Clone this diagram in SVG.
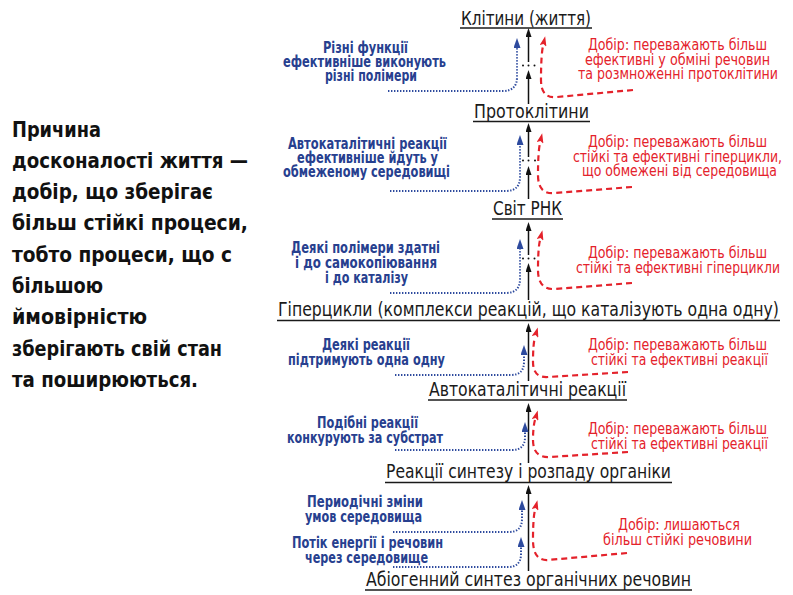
<svg xmlns="http://www.w3.org/2000/svg" width="793" height="595" viewBox="0 0 793 595">
<style>
text{font-family:"Ubuntu Condensed","Liberation Sans Narrow","DejaVu Sans Condensed","Liberation Sans",sans-serif;font-stretch:condensed}
.h{font-size:19px;fill:#1a1a1a}
.b{font-size:16px;fill:#27408f;font-weight:bold}
.r{font-size:16px;fill:#e4222b}
.l{font-size:22px;font-weight:bold;fill:#111}
.ul{stroke:#1a1a1a;stroke-width:1.5}
.ax{fill:none;stroke:#111;stroke-width:1.5}
.bd{fill:none;stroke:#2d4a9e;stroke-width:2;stroke-dasharray:1.4 1.6}
.rd{fill:none;stroke:#e4222b;stroke-width:2.2;stroke-dasharray:6 4}
.dot{fill:#111}
</style>
<defs>
<marker id="mk" viewBox="0 0 9 6" markerWidth="9" markerHeight="6" refX="0" refY="3" orient="auto" markerUnits="userSpaceOnUse"><path d="M0,0 L9,3 L0,6 z" fill="#111"/></marker>
<marker id="mb" viewBox="0 0 10 7" markerWidth="10" markerHeight="7" refX="0" refY="3.5" orient="auto" markerUnits="userSpaceOnUse"><path d="M0,0 L10,3.5 L0,7 z" fill="#2d4a9e"/></marker>
<marker id="mr" viewBox="0 0 10 7" markerWidth="10" markerHeight="7" refX="0" refY="3.5" orient="auto" markerUnits="userSpaceOnUse"><path d="M0,0 L10,3.5 L0,7 L2,3.5 z" fill="#e4222b"/></marker>
</defs>

<g id="left-text">
<text class="l" x="12" y="137" textLength="89" lengthAdjust="spacingAndGlyphs">Причина</text>
<text class="l" x="12" y="168" textLength="236" lengthAdjust="spacingAndGlyphs">досконалості життя —</text>
<text class="l" x="12" y="199" textLength="201" lengthAdjust="spacingAndGlyphs">добір, що зберігає</text>
<text class="l" x="12" y="230" textLength="236" lengthAdjust="spacingAndGlyphs">більш стійкі процеси,</text>
<text class="l" x="12" y="262" textLength="220" lengthAdjust="spacingAndGlyphs">тобто процеси, що с</text>
<text class="l" x="12" y="293" textLength="91" lengthAdjust="spacingAndGlyphs">більшою</text>
<text class="l" x="12" y="324" textLength="135" lengthAdjust="spacingAndGlyphs">ймовірністю</text>
<text class="l" x="12" y="356" textLength="210" lengthAdjust="spacingAndGlyphs">зберігають свій стан</text>
<text class="l" x="12" y="387" textLength="186" lengthAdjust="spacingAndGlyphs">та поширюються.</text>
</g>

<g id="connectors">
<path class="ax" d="M528.5 62 L528.5 37" marker-end="url(#mk)"/>
<path class="ax" d="M528.5 104 L528.5 79" marker-end="url(#mk)"/>
<path class="ax" d="M528.5 157 L528.5 132" marker-end="url(#mk)"/>
<path class="ax" d="M528.5 199 L528.5 175" marker-end="url(#mk)"/>
<path class="ax" d="M528.5 255 L528.5 231" marker-end="url(#mk)"/>
<path class="ax" d="M528.5 300 L528.5 272" marker-end="url(#mk)"/>
<path class="ax" d="M528.5 381 L528.5 332" marker-end="url(#mk)"/>
<path class="ax" d="M528.5 463 L528.5 412" marker-end="url(#mk)"/>
<path class="ax" d="M528.5 571 L528.5 494" marker-end="url(#mk)"/>
<circle class="dot" cx="523" cy="65.5" r="1"/><circle class="dot" cx="528.5" cy="65.5" r="1"/><circle class="dot" cx="534.5" cy="65.5" r="1"/>
<circle class="dot" cx="523" cy="160.5" r="1"/><circle class="dot" cx="528.5" cy="160.5" r="1"/><circle class="dot" cx="535" cy="160.5" r="1"/>
<circle class="dot" cx="523" cy="258.5" r="1"/><circle class="dot" cx="528.5" cy="258.5" r="1"/><circle class="dot" cx="534.5" cy="258.5" r="1"/>

<path class="bd" d="M388 91 L503 91 Q517 91 517 77 L517 48" marker-end="url(#mb)"/>
<path class="bd" d="M390 191 L506 191 Q520 191 520 177 L520 145" marker-end="url(#mb)"/>
<path class="bd" d="M390 293 L506 293 Q520 293 520 279 L520 249" marker-end="url(#mb)"/>
<path class="bd" d="M395 375 L511 375 Q524 375 524 362 L524 355" marker-end="url(#mb)"/>
<path class="bd" d="M395 450 L512 450 Q525 450 525 437 L525 432" marker-end="url(#mb)"/>
<path class="bd" d="M393 532 L509 532 Q522 532 522 519 L522 510" marker-end="url(#mb)"/>
<path class="bd" d="M393 567 L508 567 Q521 567 521 554 L521 547" marker-end="url(#mb)"/>

<path class="rd" d="M633 90 L557 97 Q541 99 541 80 Q541 55 543 46" marker-end="url(#mr)"/>
<path class="rd" d="M632 187 L555 193 Q538 195 538 175 Q538 152 540 143" marker-end="url(#mr)"/>
<path class="rd" d="M632 283 L555 289 Q538 290 538 270 Q538 248 540 240" marker-end="url(#mr)"/>
<path class="rd" d="M628 372 L548 377 Q533 378 533 362 Q533 344 535 337" marker-end="url(#mr)"/>
<path class="rd" d="M628 452 L550 457 Q533 458 533 440 Q533 427 535 420" marker-end="url(#mr)"/>
<path class="rd" d="M627 553 L548 560 Q533 561 533 540 Q533 518 535 510" marker-end="url(#mr)"/>
</g>

<g id="h1"><text class="h" x="461" y="24.5" textLength="130" lengthAdjust="spacingAndGlyphs">Клітини (життя)</text><line class="ul" x1="460" y1="28" x2="592" y2="28"/></g>
<g id="h2"><text class="h" x="474" y="118" textLength="115" lengthAdjust="spacingAndGlyphs">Протоклітини</text><line class="ul" x1="473" y1="121.5" x2="590" y2="121.5"/></g>
<g id="h3"><text class="h" x="493" y="215" textLength="69" lengthAdjust="spacingAndGlyphs">Світ РНК</text><line class="ul" x1="492" y1="219" x2="563" y2="219"/></g>
<g id="h4"><text class="h" x="278" y="316" textLength="501" lengthAdjust="spacingAndGlyphs">Гіперцикли (комплекси реакцій, що каталізують одна одну)</text><line class="ul" x1="277" y1="320.5" x2="780" y2="320.5"/></g>
<g id="h5"><text class="h" x="429" y="396" textLength="197" lengthAdjust="spacingAndGlyphs">Автокаталітичні реакції</text><line class="ul" x1="428" y1="400" x2="627" y2="400"/></g>
<g id="h6"><text class="h" x="386" y="478" textLength="285" lengthAdjust="spacingAndGlyphs">Реакції синтезу і розпаду органіки</text><line class="ul" x1="385" y1="482.5" x2="672" y2="482.5"/></g>
<g id="h7"><text class="h" x="366" y="586" textLength="325" lengthAdjust="spacingAndGlyphs">Абіогенний синтез органічних речовин</text><line class="ul" x1="365" y1="590" x2="692" y2="590"/></g>

<g id="b1">
<text class="b" x="323" y="53" textLength="85" lengthAdjust="spacingAndGlyphs">Різні функції</text>
<text class="b" x="283" y="67" textLength="163" lengthAdjust="spacingAndGlyphs">ефективніше виконують</text>
<text class="b" x="325" y="80.5" textLength="92" lengthAdjust="spacingAndGlyphs">різні полімери</text>
</g>
<g id="b2">
<text class="b" x="288" y="149" textLength="159" lengthAdjust="spacingAndGlyphs">Автокаталітичні реакції</text>
<text class="b" x="297" y="163" textLength="141" lengthAdjust="spacingAndGlyphs">ефективніше йдуть у</text>
<text class="b" x="283" y="177" textLength="167" lengthAdjust="spacingAndGlyphs">обмеженому середовищі</text>
</g>
<g id="b3">
<text class="b" x="291" y="253" textLength="149" lengthAdjust="spacingAndGlyphs">Деякі полімери здатні</text>
<text class="b" x="295" y="268" textLength="142" lengthAdjust="spacingAndGlyphs">і до самокопіювання</text>
<text class="b" x="325" y="283" textLength="83" lengthAdjust="spacingAndGlyphs">і до каталізу</text>
</g>
<g id="b4">
<text class="b" x="322" y="350" textLength="88" lengthAdjust="spacingAndGlyphs">Деякі реакції</text>
<text class="b" x="288" y="365" textLength="157" lengthAdjust="spacingAndGlyphs">підтримують одна одну</text>
</g>
<g id="b5">
<text class="b" x="317" y="428" textLength="101" lengthAdjust="spacingAndGlyphs">Подібні реакції</text>
<text class="b" x="287" y="443" textLength="156" lengthAdjust="spacingAndGlyphs">конкурують за субстрат</text>
</g>
<g id="b6">
<text class="b" x="307" y="507" textLength="116" lengthAdjust="spacingAndGlyphs">Периодічні зміни</text>
<text class="b" x="305" y="522" textLength="117" lengthAdjust="spacingAndGlyphs">умов середовища</text>
</g>
<g id="b7">
<text class="b" x="292" y="548" textLength="151" lengthAdjust="spacingAndGlyphs">Потік енергії і речовин</text>
<text class="b" x="305" y="563" textLength="123" lengthAdjust="spacingAndGlyphs">через середовище</text>
</g>

<g id="r1">
<text class="r" x="588" y="50" textLength="179" lengthAdjust="spacingAndGlyphs">Добір: переважають більш</text>
<text class="r" x="585" y="64.5" textLength="185" lengthAdjust="spacingAndGlyphs">ефективні у обміні речовин</text>
<text class="r" x="578" y="79" textLength="200" lengthAdjust="spacingAndGlyphs">та розмноженні протоклітини</text>
</g>
<g id="r2">
<text class="r" x="588" y="147" textLength="179" lengthAdjust="spacingAndGlyphs">Добір: переважають більш</text>
<text class="r" x="573" y="161.5" textLength="209" lengthAdjust="spacingAndGlyphs">стійкі та ефективні гіперцикли,</text>
<text class="r" x="582" y="176" textLength="195" lengthAdjust="spacingAndGlyphs">що обмежені від середовища</text>
</g>
<g id="r3">
<text class="r" x="588" y="258" textLength="179" lengthAdjust="spacingAndGlyphs">Добір: переважають більш</text>
<text class="r" x="576" y="273" textLength="204" lengthAdjust="spacingAndGlyphs">стійкі та ефективні гіперцикли</text>
</g>
<g id="r4">
<text class="r" x="588" y="350" textLength="179" lengthAdjust="spacingAndGlyphs">Добір: переважають більш</text>
<text class="r" x="591" y="365" textLength="177" lengthAdjust="spacingAndGlyphs">стійкі та ефективні реакції</text>
</g>
<g id="r5">
<text class="r" x="588" y="434" textLength="179" lengthAdjust="spacingAndGlyphs">Добір: переважають більш</text>
<text class="r" x="591" y="448.5" textLength="177" lengthAdjust="spacingAndGlyphs">стійкі та ефективні реакції</text>
</g>
<g id="r6">
<text class="r" x="618" y="530" textLength="122" lengthAdjust="spacingAndGlyphs">Добір: лишаються</text>
<text class="r" x="603" y="545" textLength="149" lengthAdjust="spacingAndGlyphs">більш стійкі речовини</text>
</g>
</svg>
